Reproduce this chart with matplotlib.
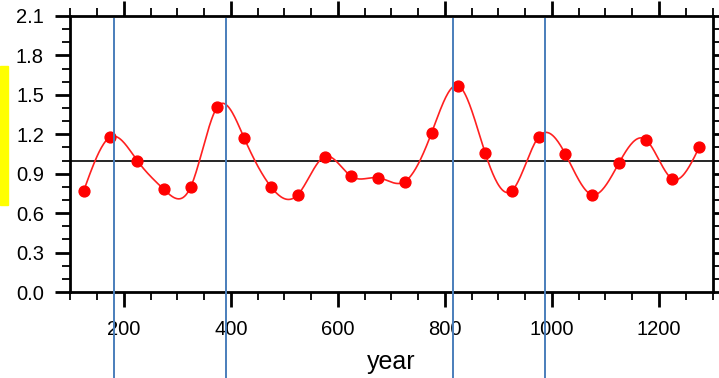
import numpy as np
import matplotlib
matplotlib.use("Agg")
import matplotlib.pyplot as plt
from matplotlib.patches import Rectangle
from matplotlib.ticker import MultipleLocator

plt.rcParams['font.family'] = ['Liberation Sans', 'DejaVu Sans']

# ---- data ----
years = [125, 175, 225, 275, 325, 375, 425, 475, 525, 575, 625, 675,
         725, 775, 825, 875, 925, 975, 1025, 1075, 1125, 1175, 1225, 1275]
values = [0.77, 1.18, 1.00, 0.78, 0.80, 1.41, 1.17, 0.80, 0.74, 1.03, 0.88, 0.87,
          0.84, 1.21, 1.57, 1.06, 0.77, 1.18, 1.05, 0.74, 0.98, 1.16, 0.86, 1.10]
ref_level = 1.0
event_years = [181, 391, 815, 987]
xticks = [200, 400, 600, 800, 1000, 1200]
yticks = [0.0, 0.3, 0.6, 0.9, 1.2, 1.5, 1.8, 2.1]


def natural_spline(x, y, n=800):
    x = np.asarray(x, float); y = np.asarray(y, float)
    m = len(x); h = np.diff(x)
    A = np.zeros((m, m)); b = np.zeros(m)
    A[0, 0] = A[-1, -1] = 1
    for i in range(1, m - 1):
        A[i, i - 1] = h[i - 1]; A[i, i] = 2 * (h[i - 1] + h[i]); A[i, i + 1] = h[i]
        b[i] = 3 * ((y[i + 1] - y[i]) / h[i] - (y[i] - y[i - 1]) / h[i - 1])
    c = np.linalg.solve(A, b)
    bb = (y[1:] - y[:-1]) / h - h * (2 * c[:-1] + c[1:]) / 3
    d = (c[1:] - c[:-1]) / (3 * h)
    xs = np.linspace(x[0], x[-1], n)
    idx = np.clip(np.searchsorted(x, xs) - 1, 0, m - 2)
    dx = xs - x[idx]
    ys = y[idx] + bb[idx] * dx + c[idx] * dx ** 2 + d[idx] * dx ** 3
    return xs, ys


fig = plt.figure(figsize=(7.19, 3.78), dpi=100)
ax = fig.add_axes([0.0978, 0.2275, 0.991 - 0.0978, 0.9577 - 0.2275])

ax.set_xlim(100, 1300)
ax.set_ylim(0, 2.1)

xs, ys = natural_spline(years, values)
ax.plot(xs, ys, color='#ff2020', lw=1.2, zorder=3)
ax.plot(years, values, 'o', color='#ff0000', ms=7.8, mec='#ff0000', zorder=4)
ax.axhline(ref_level, color='black', lw=1.2, zorder=2)

for ey in event_years:
    ax.plot([ey, ey], [-0.7, 2.08], color='#4a7ebb', lw=1.4, clip_on=False, zorder=5)

ax.set_xticks(xticks)
ax.set_yticks(yticks)
ax.set_yticklabels([f"{v:.1f}" for v in yticks])
ax.xaxis.set_minor_locator(MultipleLocator(50))
ax.yaxis.set_minor_locator(MultipleLocator(0.1))
ax.tick_params(which='both', direction='out', top=True, right=True,
               labeltop=False, labelright=False)
ax.tick_params(which='major', length=11, width=2, labelsize=14.5, pad=8)
ax.tick_params(which='minor', length=5.8, width=1.3)
ax.tick_params(axis='x', which='major', pad=9)
for s in ax.spines.values():
    s.set_linewidth(2)

ax.set_xlabel('year', fontsize=18, labelpad=8)

fig.patches.append(Rectangle((0, 1 - 205 / 378), 8 / 719, (205 - 66) / 378,
                             transform=fig.transFigure, color='#ffff00', zorder=0))

fig.savefig('out.png', dpi=100)
